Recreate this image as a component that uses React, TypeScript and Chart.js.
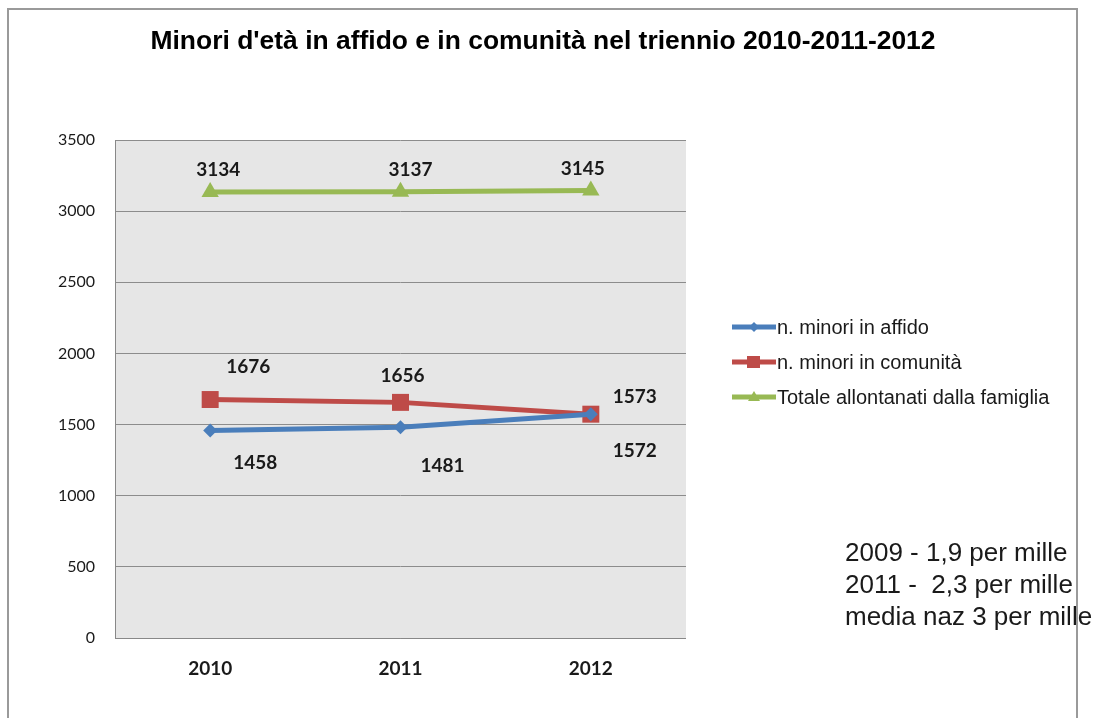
import React, { useEffect, useRef } from "react";
import { Chart, registerables } from "chart.js";

Chart.register(...registerables);

const TITLE = "Minori d'età in affido e in comunità nel triennio 2010-2011-2012";
const categories = ["2010", "2011", "2012"];
const affido = [1458, 1481, 1572];
const comunita = [1676, 1656, 1573];
const totale = [3134, 3137, 3145];
const seriesNames = ["n. minori in affido", "n. minori in comunità", "Totale allontanati dalla famiglia"];
const yTicks = [0, 500, 1000, 1500, 2000, 2500, 3000, 3500];
const noteLines = ["2009 - 1,9 per mille", "2011 -  2,3 per mille", "media naz 3 per mille"];

// label offsets (px) relative to each point, per dataset
const labelOffsets = [
  [[45, 32], [42, 39], [44, 37]],
  [[38, -33], [2, -26], [44, -17]],
  [[8, -22], [10, -22], [-8, -22]],
];

const BLUE = "#4a7ebb";
const RED = "#be4b48";
const GREEN = "#98b954";

function drawCondensed(ctx: any, text: string, cx: number, cy: number, font: string, targetW: number) {
  ctx.font = font;
  const w = ctx.measureText(text).width;
  const sx = targetW / w;
  ctx.save();
  ctx.translate(cx, cy);
  ctx.scale(sx, 1);
  ctx.textAlign = "center";
  ctx.textBaseline = "middle";
  ctx.fillText(text, 0, 0);
  ctx.restore();
}

const decorPlugin = {
  id: "decor",
  beforeDraw(chart: any) {
    const { ctx, chartArea } = chart;
    ctx.save();
    ctx.fillStyle = "#ffffff";
    ctx.fillRect(0, 0, chart.width, chart.height);
    // plot bg
    ctx.fillStyle = "#e6e6e6";
    ctx.fillRect(chartArea.left, chartArea.top, chartArea.right - chartArea.left, chartArea.bottom - chartArea.top);
    ctx.restore();
  },
  afterDraw(chart: any) {
    const { ctx, chartArea } = chart;
    ctx.save();
    // plot border left/bottom
    ctx.strokeStyle = "#888888";
    ctx.lineWidth = 1;
    ctx.beginPath();
    ctx.moveTo(chartArea.left + 0.5, chartArea.top);
    ctx.lineTo(chartArea.left + 0.5, chartArea.bottom + 0.5);
    ctx.lineTo(chartArea.right, chartArea.bottom + 0.5);
    ctx.stroke();

    // title
    ctx.fillStyle = "#000";
    drawCondensed(ctx, TITLE, 543, 42, "bold 26px 'Liberation Sans', Arial", 785);

    // data labels
    ctx.textAlign = "center";
    ctx.textBaseline = "middle";
    ctx.font = "bold 19px Lato, 'Open Sans', sans-serif";
    ctx.fillStyle = "#1a1a1a";
    chart.data.datasets.forEach((ds: any, di: number) => {
      const meta = chart.getDatasetMeta(di);
      meta.data.forEach((pt: any, i: number) => {
        const off = labelOffsets[di][i];
        ctx.fillText(String(ds.data[i]), pt.x + off[0], pt.y + off[1]);
      });
    });

    // legend
    const colors = [BLUE, RED, GREEN];
    const shapes = ["rectRot", "rect", "triangle"];
    const ys = [327, 362, 397];
    ctx.textAlign = "left";
    ctx.textBaseline = "middle";
    ctx.font = "20px 'Liberation Sans', Arial";
    seriesNames.forEach((name, i) => {
      const y = ys[i];
      ctx.strokeStyle = colors[i];
      ctx.lineWidth = 5;
      ctx.beginPath();
      ctx.moveTo(732, y);
      ctx.lineTo(776, y);
      ctx.stroke();
      ctx.fillStyle = colors[i];
      ctx.beginPath();
      if (shapes[i] === "rectRot") {
        ctx.moveTo(754, y - 5); ctx.lineTo(759, y); ctx.lineTo(754, y + 5); ctx.lineTo(749, y);
      } else if (shapes[i] === "rect") {
        ctx.rect(747, y - 6, 13, 12);
      } else {
        ctx.moveTo(754, y - 6); ctx.lineTo(760, y + 4); ctx.lineTo(748, y + 4);
      }
      ctx.closePath();
      ctx.fill();
      ctx.fillStyle = "#1a1a1a";
      ctx.fillText(name, 777, y + 1);
    });

    // note
    ctx.font = "26px 'Liberation Sans', Arial";
    ctx.fillStyle = "#1a1a1a";
    ctx.textAlign = "left";
    ctx.textBaseline = "middle";
    noteLines.forEach((l, i) => ctx.fillText(l, 845, 554 + i * 32));

    // frame (drawn on top, as in the reference)
    ctx.strokeStyle = "#9a9a9a";
    ctx.lineWidth = 2;
    ctx.beginPath();
    ctx.moveTo(8, 730);
    ctx.lineTo(8, 9);
    ctx.lineTo(1077, 9);
    ctx.lineTo(1077, 730);
    ctx.stroke();
    ctx.restore();
  },
};

export default function App() {
  const ref = useRef<HTMLCanvasElement | null>(null);
  useEffect(() => {
    if (!ref.current) return;
    const chart = new Chart(ref.current, {
      type: "line",
      data: {
        labels: categories,
        datasets: [
          {
            label: seriesNames[0],
            data: affido,
            borderColor: BLUE,
            backgroundColor: BLUE,
            borderWidth: 5,
            pointStyle: "rectRot",
            pointRadius: 7,
            pointBorderWidth: 0,
          },
          {
            label: seriesNames[1],
            data: comunita,
            borderColor: RED,
            backgroundColor: RED,
            borderWidth: 5,
            pointStyle: "rect",
            pointRadius: 12,
            pointBorderWidth: 0,
          },
          {
            label: seriesNames[2],
            data: totale,
            borderColor: GREEN,
            backgroundColor: GREEN,
            borderWidth: 5,
            pointStyle: "triangle",
            pointRadius: 10,
            pointBorderWidth: 0,
          },
        ],
      },
      options: {
        animation: false,
        responsive: false,
        maintainAspectRatio: false,
        layout: { padding: { top: 140, right: 412, left: 0, bottom: 0 } },
        plugins: {
          legend: { display: false },
          title: { display: false },
          tooltip: { enabled: false },
        },
        scales: {
          x: {
            type: "category",
            offset: true,
            grid: { display: false, drawTicks: false },
            border: { display: false },
            ticks: {
              padding: 19,
              color: "#1a1a1a",
              font: { family: "Lato, 'Open Sans', sans-serif", size: 19, weight: "bold" },
            },
            afterFit: (s: any) => { s.height = 80; },
          },
          y: {
            min: 0,
            max: 3500,
            afterBuildTicks: (s: any) => { s.ticks = yTicks.map((v) => ({ value: v })); },
            grid: { color: "#8c8c8c", lineWidth: 1, drawTicks: false },
            border: { display: false },
            ticks: {
              padding: 20,
              color: "#1a1a1a",
              font: { family: "Lato, 'Open Sans', sans-serif", size: 16 },
              callback: (v: any) => String(v),
            },
            afterFit: (s: any) => { s.width = 115; },
          },
        },
      },
      plugins: [decorPlugin],
    });
    return () => chart.destroy();
  }, []);
  return (
    <div style={{ position: "absolute", left: 0, top: 0, width: 1098, height: 718 }}>
      <canvas ref={ref} width={1098} height={718} style={{ width: 1098, height: 718 }} />
    </div>
  );
}
